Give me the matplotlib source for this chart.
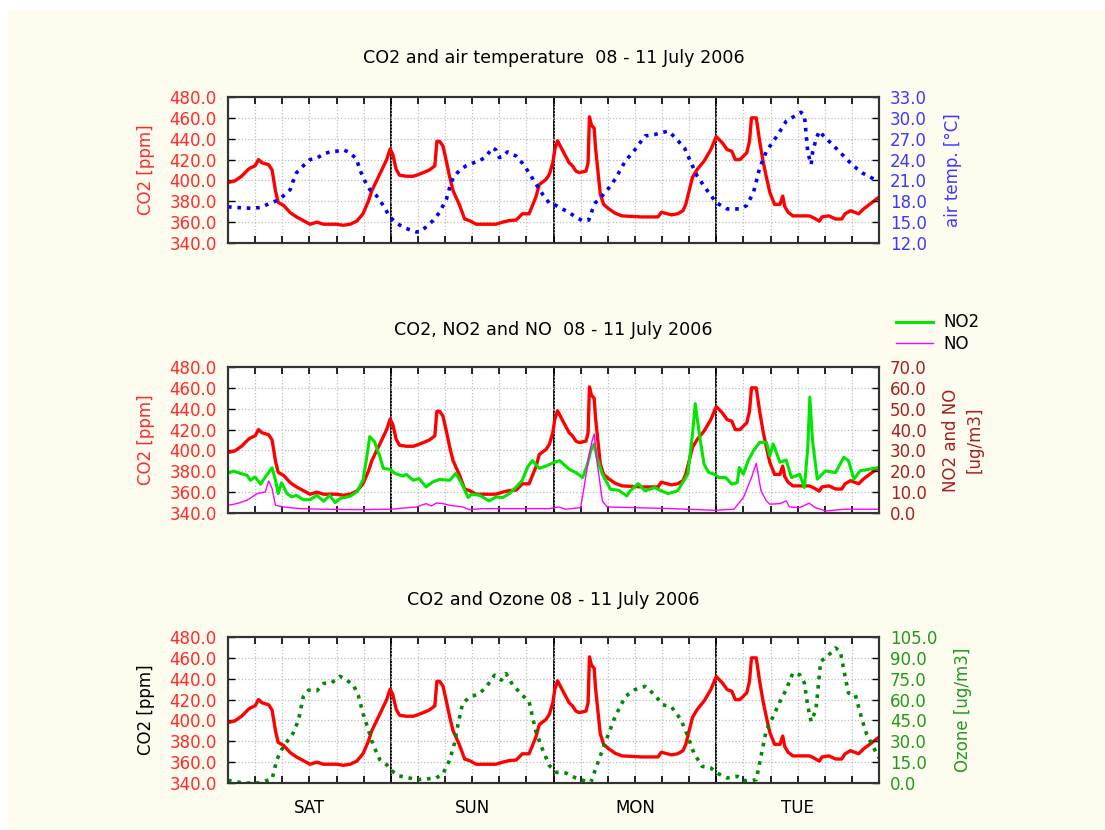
import matplotlib.pyplot as plt
from matplotlib.patches import Rectangle

# CO2 [ppm], hours since Sat 00:00 (same series in all three panels)
co2_hours = [0.0, 1.0, 2.0, 3.0, 3.3, 4.0, 4.5, 5.0, 5.5, 6.0, 6.5, 7.0, 7.4, 8.2, 9.2,
             10.1, 11.1, 12.1, 13.1, 14.1, 16.0, 17.0, 18.0, 19.0, 19.9, 20.7, 21.2,
             21.9, 22.6, 23.4, 23.9, 24.3, 24.8, 25.3, 26.3, 27.3, 27.8, 28.8, 29.7,
             30.5, 30.8, 31.2, 31.7, 32.2, 32.7, 33.2, 34.1, 34.9, 35.6, 36.6, 39.5,
             40.5, 41.5, 42.5, 43.4, 44.4, 45.4, 45.9, 46.9, 47.4, 47.9, 48.2, 48.6,
             49.4, 50.3, 50.8, 51.3, 51.8, 52.8, 53.1, 53.3, 53.6, 54.0, 54.2, 54.7,
             54.9, 55.4, 56.1, 57.1, 58.1, 61.0, 63.4, 63.9, 65.4, 66.3, 67.1, 67.5,
             68.0, 68.5, 69.2, 70.2, 71.2, 72.0, 72.9, 73.6, 74.3, 74.8, 75.5, 76.5,
             76.9, 77.2, 77.9, 78.4, 78.9, 79.4, 79.9, 80.6, 81.4, 81.8, 82.1, 82.6,
             83.3, 85.7, 86.2, 87.2, 87.6, 88.6, 89.6, 90.5, 91.0, 91.8, 93.0, 93.7,
             94.4, 96.0]
co2_ppm = [398, 399.5, 404, 410.6, 412, 414, 420, 417, 416, 415, 410, 390, 379, 376, 369,
           365, 361.5, 358, 360, 358, 358, 357, 358, 361, 368, 380, 390,
           399.5, 409, 420, 430, 425, 410.6, 405, 404, 404, 405, 407.5, 410,
           414, 437.5, 437.5, 433, 418.5, 403, 390, 377, 363, 361.5, 358, 358,
           360, 361.5, 362, 368, 368, 384, 396, 401, 406, 417, 430, 438,
           428, 417, 414, 409, 407.5, 409, 417, 461, 453, 450, 431, 399.5,
           387, 377, 373, 368.5, 366, 365, 365, 369.5, 367, 368, 371, 377,
           390, 403, 410.6, 418.5, 429.6, 442, 436, 429.6, 428, 420, 420, 426.5,
           437.5, 460, 460, 437.5, 418.5, 403, 388.5, 377, 377, 385, 375, 369.5,
           366, 366, 364.7, 361, 365, 366, 363, 363, 368, 371, 368, 372.6,
           376, 384]

# air temperature [°C]
temp_hours = [0.0, 1.3, 3.3, 4.8, 5.7, 7.2, 8.2, 9.2, 9.6, 10.1, 11.1, 12.1, 13.1, 14.1,
              15.0, 16.0, 17.0, 18.0, 19.0, 19.4, 20.2, 20.9, 21.9, 22.9, 23.9, 24.8,
              25.8, 26.8, 27.8, 28.3, 29.2, 30.2, 31.2, 32.2, 32.7, 33.2, 34.1, 35.1,
              36.1, 37.1, 38.1, 39.0, 39.5, 40.0, 40.5, 41.2, 42.5, 43.4, 44.4, 45.4,
              46.4, 47.4, 48.0, 48.9, 50.3, 51.3, 52.3, 53.2, 53.7, 54.2, 55.7, 57.1,
              58.6, 60.0, 61.5, 62.9, 64.9, 65.8, 67.3, 68.3, 69.2, 70.7, 72.0, 73.6,
              75.5, 76.5, 77.5, 78.4, 79.4, 80.9, 82.3, 83.3, 84.5, 85.0, 85.5, 86.0,
              86.2, 86.7, 87.2, 87.9, 89.1, 90.6, 92.0, 93.5, 96.0]
temp_c = [17.2, 17.1, 17.0, 17.1, 17.5, 18.1, 18.8, 19.7, 20.9, 22.1, 23.1, 24.0, 24.2, 24.8,
          25.1, 25.2, 25.4, 25.0, 24.0, 22.6, 20.9, 19.7, 18.8, 17.4, 15.7, 14.9,
          14.3, 13.9, 13.6, 13.6, 14.3, 15.2, 16.4, 18.3, 20.0, 21.4, 22.4, 23.1,
          23.5, 23.8, 24.5, 25.7, 25.4, 24.3, 24.4, 25.1, 24.5, 23.5, 22.1, 20.5,
          19.0, 17.7, 17.6, 17.1, 16.4, 15.7, 15.2, 15.3, 16.7, 17.8, 19.3, 21.2,
          23.8, 25.4, 27.4, 27.6, 28.1, 27.3, 25.7, 23.5, 21.6, 19.5, 17.8, 16.9,
          16.9, 17.4, 19.3, 22.8, 25.2, 27.3, 29.5, 30.1, 30.8, 30.4, 25.0, 23.3,
          25.0, 26.9, 28.1, 27.3, 26.2, 24.7, 23.3, 22.1, 20.8]

# NO2 [ug/m3]
no2_hours = [0.0, 0.8, 1.8, 2.8, 3.3, 4.0, 4.8, 5.5, 6.5, 7.0, 7.4, 7.9, 8.7, 9.4, 10.1,
             11.1, 12.1, 13.1, 14.1, 15.0, 15.8, 16.5, 18.0, 19.0, 19.9, 20.4, 20.9,
             21.6, 22.4, 22.9, 23.9, 24.6, 25.8, 26.3, 27.3, 28.2, 29.2, 30.2, 31.2,
             32.7, 33.6, 34.6, 35.4, 35.9, 37.1, 38.5, 39.5, 40.5, 41.5, 42.5, 43.4,
             44.2, 44.9, 45.9, 46.9, 47.9, 48.9, 50.3, 51.3, 52.3, 53.0, 53.5, 54.0,
             54.4, 55.2, 56.4, 57.6, 58.8, 59.3, 60.5, 61.5, 62.9, 63.9, 64.9, 66.3,
             67.8, 68.5, 68.9, 69.5, 70.2, 70.9, 71.7, 72.4, 73.4, 74.3, 75.1, 75.4,
             76.0, 76.7, 77.5, 78.4, 79.4, 79.9, 80.4, 81.4, 82.3, 83.1, 84.3, 85.0,
             85.5, 85.8, 86.2, 86.9, 88.1, 89.6, 90.8, 91.5, 92.3, 93.2, 96.0]
no2_ug = [19.0, 20.1, 19.0, 18.1, 15.7, 17.3, 13.8, 17.3, 21.7, 15.7, 9.3, 14.5, 9.3, 7.7, 8.5,
          6.4, 6.4, 8.5, 5.6, 8.5, 5.0, 6.9, 8.0, 10.1, 15.7, 25.4, 36.6,
          34.2, 27.0, 21.4, 20.9, 19.0, 17.7, 18.5, 15.7, 16.5, 12.5, 14.9, 16.1,
          15.7, 19.0, 13.3, 7.4, 9.0, 8.5, 5.8, 7.7, 7.4, 9.3, 12.5, 15.7,
          22.2, 25.1, 21.4, 22.5, 24.0, 25.1, 21.0, 19.4, 17.0, 23.4, 29.9, 33.1,
          26.7, 18.6, 11.4, 10.9, 8.2, 10.6, 14.1, 10.6, 12.2, 10.6, 9.3, 10.6,
          18.6, 37.9, 52.4, 37.9, 23.4, 19.4, 18.6, 17.0, 17.0, 13.8, 14.6, 21.8,
          18.6, 25.1, 29.9, 33.9, 33.9, 27.5, 33.1, 24.3, 25.4, 17.0, 18.6, 12.2,
          31.5, 55.6, 34.7, 16.2, 20.2, 19.4, 26.7, 25.1, 16.2, 20.2, 21.8]

# NO [ug/m3]
no_hours = [0.0, 1.3, 2.8, 4.3, 5.5, 6.0, 6.5, 7.0, 8.2, 10.6, 14.1, 19.0, 23.9, 27.8, 29.2,
            30.0, 30.7, 31.7, 32.7, 34.6, 35.6, 37.6, 42.5, 47.4, 48.8, 49.8, 52.0,
            52.5, 53.2, 53.7, 54.0, 54.4, 55.2, 55.9, 59.5, 64.4, 67.8, 71.7, 74.6,
            76.0, 77.2, 77.9, 78.6, 79.4, 79.9, 81.4, 82.3, 82.8, 84.3, 85.7, 86.6,
            88.1, 91.0, 96.0]
no_ug = [3.7, 4.5, 6.1, 9.3, 10.1, 15.4, 11.7, 3.7, 2.9, 2.1, 1.8, 1.6, 1.8, 2.9, 4.5,
         3.4, 4.8, 4.5, 3.7, 2.9, 1.6, 2.1, 2.1, 2.1, 2.9, 1.8, 2.6,
         12.2, 26.7, 34.7, 37.9, 25.1, 5.8, 2.9, 2.6, 2.2, 1.8, 1.3, 1.8,
         7.4, 17.0, 23.8, 10.6, 5.8, 4.2, 4.5, 5.8, 2.9, 2.6, 4.7, 2.6,
         1.0, 1.8, 1.8]

# Ozone [ug/m3]
o3_hours = [0.0, 1.3, 2.5, 4.5, 6.5, 7.2, 7.9, 8.7, 9.6, 10.4, 11.1, 11.9, 13.1, 14.1,
            15.3, 16.5, 17.5, 18.5, 19.2, 19.9, 20.7, 21.4, 22.4, 23.4, 24.1, 25.1,
            26.3, 27.8, 29.2, 30.7, 31.7, 32.7, 33.4, 33.9, 34.6, 35.6, 37.1, 38.1,
            39.3, 40.3, 41.0, 42.0, 43.4, 44.4, 45.4, 46.4, 47.4, 48.4, 49.8, 51.3,
            52.8, 53.5, 54.7, 55.7, 57.1, 58.6, 60.0, 61.5, 62.9, 64.1, 65.4, 66.8,
            67.8, 68.7, 69.9, 71.2, 72.1, 73.6, 75.1, 76.5, 77.9, 78.7, 79.4, 80.4,
            81.4, 82.3, 83.3, 84.3, 85.0, 85.5, 86.0, 86.7, 87.4, 88.4, 89.6, 90.3,
            90.8, 91.5, 92.5, 93.5, 94.2, 96.0]
o3_ug = [1.9, 0.7, 0.0, 0.0, 2.9, 16.7, 23.9, 29.8, 35.8, 45.3, 62.0, 66.8, 66.3, 71.6,
         72.1, 76.8, 74.0, 70.4, 63.2, 50.1, 38.2, 27.4, 16.7, 13.1, 9.1, 5.2,
         4.1, 2.4, 2.9, 3.6, 6.7, 16.7, 28.6, 41.8, 57.3, 61.6, 64.4, 69.2,
         77.5, 74.0, 78.7, 70.4, 63.2, 58.5, 37.0, 23.9, 12.5, 7.7, 7.2, 3.6,
         1.2, 0.5, 16.8, 30.0, 47.9, 62.3, 67.1, 69.5, 63.5, 56.3, 54.7, 45.5,
         33.6, 21.6, 12.0, 10.8, 7.2, 3.6, 4.8, 1.2, 2.4, 21.6, 38.4, 47.9,
         58.7, 67.1, 79.1, 77.9, 71.9, 55.1, 44.3, 52.7, 87.5, 91.1, 97.1, 94.7,
         81.5, 64.7, 63.5, 45.5, 34.8, 18.0]

day_names = ["SAT", "SUN", "MON", "TUE"]
co2_ticks = [340, 360, 380, 400, 420, 440, 460, 480]
temp_ticks = [12, 15, 18, 21, 24, 27, 30, 33]
nox_ticks = [0, 10, 20, 30, 40, 50, 60, 70]
o3_ticks = [0, 15, 30, 45, 60, 75, 90, 105]

RED = "#ff0000"
RED_TXT = "#ff2a2a"
BLUE = "#0000ff"
BLUE_TXT = "#3a3aff"
NOX_TXT = "#a52020"
O3_LINE = "#008a00"
O3_TXT = "#1f9a1f"
CREAM = "#fefbef"

fig = plt.figure(figsize=(11.05, 8.3), dpi=100, facecolor="white")
fig.add_artist(Rectangle((8 / 1105, 0), 1, 1 - 10 / 830, transform=fig.transFigure,
                         facecolor=CREAM, edgecolor="none", zorder=-10))

left, width, height = 228 / 1105, 651 / 1105, 146 / 830
bottoms = [1 - 243 / 830, 1 - 513 / 830, 1 - 783 / 830]
titles = ["CO2 and air temperature  08 - 11 July 2006",
          "CO2, NO2 and NO  08 - 11 July 2006",
          "CO2 and Ozone 08 - 11 July 2006"]


def setup(ax, ax2, right_ticks, right_color, left_label_color):
    ax.set_xlim(0, 96)
    ax.set_ylim(340, 480)
    ax.set_yticks(co2_ticks)
    ax.set_yticklabels([f"{t:.1f}" for t in co2_ticks], color=RED_TXT, fontsize=12)
    ax.set_xticks(range(0, 97, 4))
    ax.set_xticklabels([])
    ax.tick_params(axis="x", direction="in", top=True, length=5, width=1.2)
    ax.tick_params(axis="y", direction="in", length=5, width=1, pad=8)
    ax.grid(True, color="#bdbdbd", linestyle=":", linewidth=0.9)
    for d in (24, 48, 72):
        ax.axvline(d, color="black", linewidth=1.3, zorder=1)
    ax.set_ylabel("CO2 [ppm]", color=left_label_color, fontsize=12)
    ax.yaxis.set_label_coords(-0.112, 0.5)
    ax2.set_ylim(right_ticks[0], right_ticks[-1])
    ax2.set_yticks(right_ticks)
    ax2.set_yticklabels([f"{t:.1f}" for t in right_ticks], color=right_color, fontsize=12)
    ax2.tick_params(axis="y", direction="in", length=5, width=1, pad=8)
    for a in (ax, ax2):
        for s in a.spines.values():
            s.set_color("#333333")
            s.set_linewidth(1.5)


axes = []
for i, b in enumerate(bottoms):
    ax = fig.add_axes([left, b, width, height])
    ax.set_facecolor("white")
    ax2 = ax.twinx()
    axes.append((ax, ax2))
    fig.text(553.5 / 1105, 1 - [58, 330, 600][i] / 830, titles[i],
             ha="center", va="center", fontsize=12.6)

# top: CO2 and air temperature
ax, ax2 = axes[0]
ax.plot(co2_hours, co2_ppm, color=RED, linewidth=2.4)
ax2.plot(temp_hours, temp_c, color=BLUE, linestyle=(0, (1, 1.6)), linewidth=2.6)
setup(ax, ax2, temp_ticks, BLUE_TXT, RED_TXT)
ax2.set_ylabel("air temp. [°C]", color=BLUE_TXT, fontsize=12)
ax2.yaxis.set_label_coords(1.0998, 0.5)

# middle: CO2, NO2 and NO
ax, ax2 = axes[1]
ax.plot(co2_hours, co2_ppm, color=RED, linewidth=2.4)
ax2.plot(no2_hours, no2_ug, color="#00e600", linewidth=2.2, label="NO2")
ax2.plot(no_hours, no_ug, color="#ff00ff", linewidth=1.0, label="NO")
setup(ax, ax2, nox_ticks, NOX_TXT, RED_TXT)
ax2.set_ylabel("NO2 and NO\n[ug/m3]", color=NOX_TXT, fontsize=12, linespacing=1.4)
ax2.yaxis.set_label_coords(1.097, 0.5)
ax2.legend(loc="center left", bbox_to_anchor=(888 / 1105, 1 - 333 / 830),
           bbox_transform=fig.transFigure, frameon=False, fontsize=12,
           handlelength=2.2, handletextpad=0.6, labelspacing=0.2, borderpad=0)

# bottom: CO2 and Ozone
ax, ax2 = axes[2]
ax.plot(co2_hours, co2_ppm, color=RED, linewidth=2.4)
ax2.plot(o3_hours, o3_ug, color=O3_LINE, linestyle=(0, (1, 1.6)), linewidth=2.6)
setup(ax, ax2, o3_ticks, O3_TXT, "black")
ax2.set_ylabel("Ozone [ug/m3]", color=O3_TXT, fontsize=12)
ax2.yaxis.set_label_coords(1.115, 0.5)
for k, name in enumerate(day_names):
    ax.text(12 + 24 * k, -0.17, name, transform=ax.get_xaxis_transform(),
            ha="center", va="center", fontsize=12)

fig.savefig("out.png", dpi=100, facecolor=fig.get_facecolor())
